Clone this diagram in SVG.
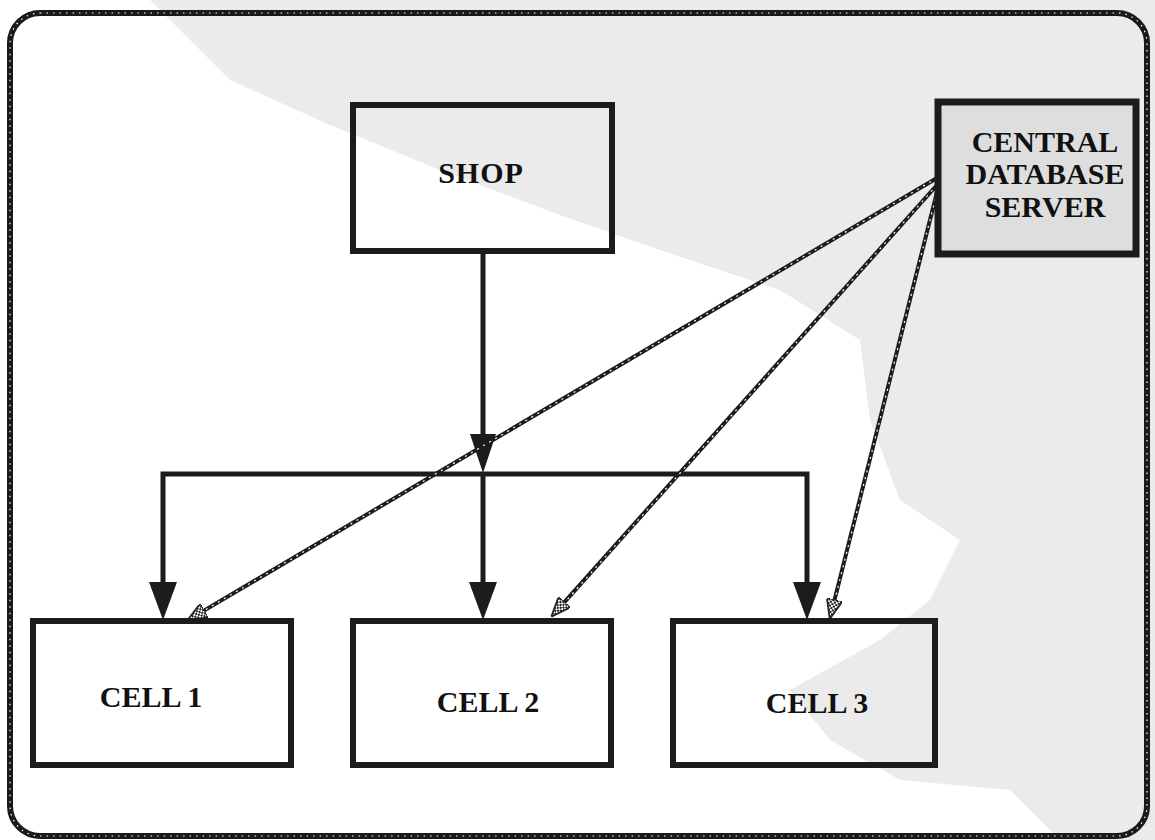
<svg xmlns="http://www.w3.org/2000/svg" width="1155" height="840" viewBox="0 0 1155 840">
  <defs>
    <pattern id="checker" width="4" height="4" patternUnits="userSpaceOnUse">
      <rect width="4" height="4" fill="#ffffff"/>
      <rect width="2" height="2" fill="#222"/>
      <rect x="2" y="2" width="2" height="2" fill="#222"/>
    </pattern>
    <marker id="hatchArrow" viewBox="0 0 20 16" refX="5" refY="8" markerWidth="20" markerHeight="16" markerUnits="userSpaceOnUse" orient="auto">
      <path d="M0,0 L20,8 L0,16 Z" fill="url(#checker)" stroke="#222" stroke-width="1.8"/>
    </marker>
    <style>
      .box { fill: none; stroke: #1c1c1c; stroke-width: 6; }
      .lbl { font-family: "Liberation Serif", "Times New Roman", serif; font-weight: bold; font-size: 30px; fill: #111; text-anchor: middle; }
      .flow { fill: none; stroke: #1c1c1c; stroke-width: 5; }
      .head { fill: #1c1c1c; }
      .data { fill: none; stroke: #1c1c1c; stroke-width: 4; }
      .dataDash { fill: none; stroke: #ffffff; stroke-width: 1.2; stroke-dasharray: 2 5; }
    </style>
  </defs>

  <!-- page -->
  <rect x="0" y="0" width="1155" height="840" fill="#ffffff"/>
  <!-- scanned grey shading -->
  <path d="M150,0 L1155,0 L1155,840 L1060,840 L1010,790 L900,780 L830,740 L790,690 L880,640 L930,600 L960,540 L900,500 L870,420 L860,340 L780,290 L660,250 L560,215 L440,170 L330,125 L230,80 Z" fill="#ebebeb"/>

  <!-- outer rounded frame -->
  <rect x="10" y="13" width="1137" height="823" rx="30" ry="30" fill="none" stroke="#1a1a1a" stroke-width="6"/>
  <rect x="10" y="13" width="1137" height="823" rx="30" ry="30" fill="none" stroke="#ffffff" stroke-width="1.2" stroke-dasharray="1.5 5"/>

  <g id="connectors">
    <!-- shop to bus -->
    <line class="flow" x1="483" y1="251" x2="483" y2="440"/>
    <polygon class="head" points="470,434 496,434 483,473"/>
    <!-- bus -->
    <polyline class="flow" points="163,584 163,474 807,474 807,584"/>
    <line class="flow" x1="483" y1="474" x2="483" y2="584"/>
    <polygon class="head" points="149,582 177,582 163,620"/>
    <polygon class="head" points="469,582 497,582 483,620"/>
    <polygon class="head" points="793,582 821,582 807,620"/>
    <!-- database links -->
    <path class="data" d="M937,178 L200.1,612.9" marker-end="url(#hatchArrow)"/>
    <path class="dataDash" d="M937,178 L205,610"/>
    <path class="data" d="M937,185 L561.3,605.6" marker-end="url(#hatchArrow)"/>
    <path class="dataDash" d="M937,185 L566,601"/>
    <path class="data" d="M937,192 L833.4,604.4" marker-end="url(#hatchArrow)"/>
    <path class="dataDash" d="M937,192 L835,599"/>
  </g>

  <g id="shop">
    <rect class="box" x="353" y="105" width="259" height="146"/>
    <text class="lbl" x="481" y="183" letter-spacing="1">SHOP</text>
  </g>

  <g id="central-database-server">
    <rect x="938" y="102" width="198" height="152" fill="#dedede" stroke="#1c1c1c" stroke-width="7"/>
    <text class="lbl" x="1045" y="152" font-size="29">CENTRAL</text>
    <text class="lbl" x="1045" y="184" font-size="29">DATABASE</text>
    <text class="lbl" x="1045" y="217" font-size="29">SERVER</text>
  </g>

  <g id="cell1">
    <rect class="box" x="33" y="621" width="258" height="144"/>
    <text class="lbl" x="151" y="707">CELL 1</text>
  </g>

  <g id="cell2">
    <rect class="box" x="353" y="621" width="258" height="144"/>
    <text class="lbl" x="488" y="712">CELL 2</text>
  </g>

  <g id="cell3">
    <rect class="box" x="673" y="621" width="262" height="144"/>
    <text class="lbl" x="817" y="713">CELL 3</text>
  </g>
</svg>
